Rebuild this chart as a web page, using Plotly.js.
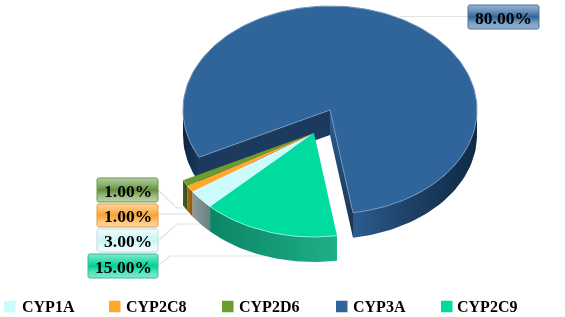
<!DOCTYPE html>
<html>
<head>
<meta charset="utf-8">
<script src="https://cdn.plot.ly/plotly-3.0.1.min.js"></script>
<style>html,body{margin:0;padding:0;background:#fff}#chart{width:565px;height:317px;filter:blur(0.4px)}</style>
</head>
<body>
<div id="chart"></div>
<script>
// ---- data ----
const categories = ['CYP1A', 'CYP2C8', 'CYP2D6', 'CYP3A', 'CYP2C9'];
const values = [3, 1, 1, 80, 15];
const labelTexts = ['3.00%', '1.00%', '1.00%', '80.00%', '15.00%'];

// ---- styles ----
const topColors = ['#ccfbfb', '#ffa82e', '#6a9c2e', '#2f659a', '#00dba0'];
const wallStops = [
  ['#8a9c9c', '#6c8080'],
  ['#a86c18', '#8a5810'],
  ['#3f5f1c', '#34501a'],
  ['#2c5c8e', '#0f2a45'],
  ['#0a8566', '#1fae88']
];
const edgeColors = ['#e4ffff', '#ffc878', '#8ab45a', '#7295ba', '#7ff0d0'];
const glossStops = [
  ['#f0fdfd', '#e4fbfb', '#c8f6f6', '#dff9f9', '#eefdfd'],
  ['#fdd9a6', '#fcc47e', '#f9a233', '#fbbb6c', '#fdd5a0'],
  ['#b9d2a4', '#9dbd82', '#5f8f3c', '#8fb274', '#b4cfa0'],
  ['#94b2d0', '#7da0c4', '#2f659a', '#6c93bb', '#95b3d2'],
  ['#7eeccd', '#4fe4bb', '#00cf98', '#40dfb4', '#7eeccd']
];
const glossBorders = ['#bcdcdc', '#e89a38', '#6f9550', '#4d7399', '#3fb898'];

// ---- layout constants (pixels) ----
const W = 565, H = 317;
const RX = 147, RY = 104, DEPTH = 25;
const mainCenter = [330, 110];
const explodedCenter = [314, 133];
const firstSliceStart = 225;       // degrees clockwise from 12 o'clock
const boxes = [                    // x0, x1, y0, y1 per category
  [97, 158, 229, 252],
  [97, 158, 204, 227],
  [97, 158, 178, 202],
  [468, 539, 5, 29],
  [88, 158, 254, 278]
];
const leaders = [
  [[158, 241], [177, 224], [200, 224]],
  [[158, 214], [188, 214]],
  [[158, 190], [177, 208], [188, 208]],
  [[400, 16.5], [468, 16.5]],
  [[158, 266], [170, 256], [267, 256]]
];
const legendSwatchX = [4, 109, 222, 336, 441];
const legendTextX = [22, 126, 239, 353, 457];
const legendY = 306.5, swatch = 11.5;

// ---- geometry helpers ----
const pt = (c, a, dy = 0) => {
  const r = a * Math.PI / 180;
  return [c[0] + RX * Math.sin(r), c[1] - RY * Math.cos(r) + dy];
};
function arc(c, a0, a1, dy = 0) {
  const n = Math.max(2, Math.ceil(Math.abs(a1 - a0) / 2)), out = [];
  for (let i = 0; i <= n; i++) out.push(pt(c, a0 + (a1 - a0) * i / n, dy));
  return out;
}
function poly(points, opts) {
  const closed = points.concat([points[0]]);
  return Object.assign({
    type: 'scatter', mode: 'lines', fill: 'toself',
    x: closed.map(p => p[0]), y: closed.map(p => p[1]),
    line: { width: 0 }, hoverinfo: 'skip', showlegend: false
  }, opts);
}
const hGrad = (cols) => ({ type: 'horizontal', colorscale: cols.map((c, i) => [i / (cols.length - 1), c]) });
const vGrad = (cols) => ({ type: 'vertical', colorscale: cols.map((c, i) => [i / (cols.length - 1), c]) });

// slice angles from the values
const total = values.reduce((a, b) => a + b, 0);
let cum = firstSliceStart;
const slices = values.map((v, i) => {
  const a0 = cum, a1 = cum + v / total * 360;
  cum = a1;
  return { i, a0, a1, c: i === 3 ? mainCenter : explodedCenter };
});

function outerWall(c, a0, a1, opts) {
  const top = arc(c, a0, a1), bot = arc(c, a1, a0, DEPTH);
  return poly(top.concat(bot), opts);
}
const traces = [];

// main slice: inner walls, outer walls, top
const m = slices[3];
const mc = m.c;
const mL = pt(mc, m.a0), mR = pt(mc, m.a1);
traces.push(poly([mc, mL, [mL[0], mL[1] + DEPTH], [mc[0], mc[1] + DEPTH]], { fillcolor: '#1b3a5d' }));
traces.push(poly([mc, mR, [mR[0], mR[1] + DEPTH], [mc[0], mc[1] + DEPTH]],
  { fillgradient: vGrad(['#17324f', '#2c5f92']), fillcolor: '#2c5f92' }));
traces.push(outerWall(mc, m.a0, 270, { fillgradient: hGrad(['#0e2440', '#1a3a5d']), fillcolor: '#1a3a5d' }));
traces.push(outerWall(mc, 450, m.a1, { fillgradient: hGrad(['#2c5c8e', '#1c3f63', '#0f2a45']), fillcolor: '#1c3f63' }));
traces.push(poly([mc].concat(arc(mc, m.a0, m.a1)),
  { fillcolor: topColors[3], line: { width: 1, color: edgeColors[3] } }));

// exploded slices
[4, 0, 1, 2].forEach(i => {
  const s = slices[i];
  const cols = wallStops[i];
  traces.push(outerWall(s.c, s.a0, s.a1, { fillgradient: hGrad(cols), fillcolor: cols[0] }));
});
[4, 0, 1, 2].forEach(i => {
  const s = slices[i];
  traces.push(poly([s.c].concat(arc(s.c, s.a0, s.a1)), { fillcolor: topColors[i] }));
  traces.push({
    type: 'scatter', mode: 'lines', hoverinfo: 'skip', showlegend: false,
    x: arc(s.c, s.a0, s.a1).map(p => p[0]), y: arc(s.c, s.a0, s.a1).map(p => p[1]),
    line: { width: 1, color: edgeColors[i] }
  });
});

// glossy data-label boxes with rounded corners
function roundRect(b, r) {
  const [x0, x1, y0, y1] = b, out = [];
  [[x1 - r, y0 + r, -90], [x1 - r, y1 - r, 0], [x0 + r, y1 - r, 90], [x0 + r, y0 + r, 180]].forEach(([cx, cy, st]) => {
    for (let k = 0; k <= 4; k++) {
      const t = (st + k * 22.5) * Math.PI / 180;
      out.push([cx + r * Math.cos(t), cy + r * Math.sin(t)]);
    }
  });
  return out;
}
boxes.forEach((b, i) => {
  traces.push(poly(roundRect(b, 2), {
    fillgradient: vGrad(glossStops[i]), fillcolor: glossStops[i][2],
    line: { width: 1, color: glossBorders[i] }
  }));
});

// legend swatches
traces.push({
  type: 'scatter', mode: 'markers', hoverinfo: 'skip', showlegend: false,
  x: legendSwatchX.map(x => x + swatch / 2), y: categories.map(() => legendY),
  marker: { symbol: 'square', size: swatch, color: topColors, line: { width: 0 } }
});

const serif = '"Liberation Serif","Times New Roman",serif';
const annotations = [];
boxes.forEach((b, i) => annotations.push({
  x: (b[0] + b[1]) / 2, y: (b[2] + b[3]) / 2 + 0.5, xref: 'x', yref: 'y', showarrow: false,
  xanchor: 'center', yanchor: 'middle', text: '<b>' + labelTexts[i] + '</b>',
  font: { family: serif, size: 17.5, color: '#000' }
}));
categories.forEach((c, i) => annotations.push({
  x: legendTextX[i], y: legendY, xref: 'x', yref: 'y', showarrow: false,
  xanchor: 'left', yanchor: 'middle', xshift: -2, text: '<b>' + c + '</b>',
  font: { family: serif, size: 16, color: '#000' }
}));

const shapes = leaders.map(l => ({
  type: 'path', layer: 'below',
  path: 'M' + l.map(p => p.join(',')).join('L'),
  line: { color: '#e2e2e2', width: 1.2 }
}));

Plotly.newPlot('chart', traces, {
  width: W, height: H,
  margin: { l: 0, r: 0, t: 0, b: 0 },
  paper_bgcolor: '#fff', plot_bgcolor: '#fff',
  showlegend: false,
  xaxis: { range: [0, W], visible: false, fixedrange: true },
  yaxis: { range: [H, 0], visible: false, fixedrange: true },
  shapes, annotations
}, { displayModeBar: false, staticPlot: true });
</script>
</body>
</html>
